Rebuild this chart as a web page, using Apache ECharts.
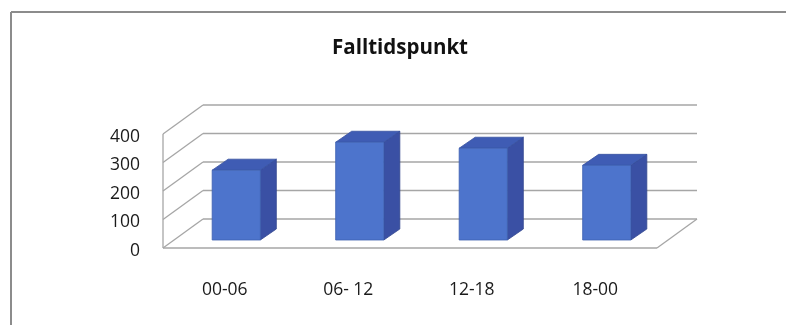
<!DOCTYPE html>
<html>
<head>
<meta charset="utf-8">
<script src="https://cdn.jsdelivr.net/npm/echarts@6/dist/echarts.min.js"></script>
<style>
  html, body { margin: 0; padding: 0; background: #ffffff; }
  #chart { width: 786px; height: 325px; }
</style>
</head>
<body>
<div id="chart"></div>
<script>
// Incident time-of-day buckets and their counts
const categories = ['00-06', '06- 12', '12-18', '18-00'];
const counts = [245, 343, 322, 262];
// Value-axis ticks (also used for the wall gridlines)
const yTicks = [0, 100, 200, 300, 400];

// Oblique "3D" projection offsets in pixels
const WALL_DX = 40, WALL_DY = -29;   // depth of floor / side wall
const BAR_FX = 11.5, BAR_FY = -8;    // bar front face behind the floor's front edge
const BAR_DX = 16, BAR_DY = -11;     // bar depth

const GRID_COLOR = '#a6a6a6';
const FONT = '"Open Sans", "Liberation Sans", sans-serif';

function renderWalls(params, api) {
  const cs = params.coordSys;
  const x0 = cs.x, x1 = cs.x + cs.width;
  const v = api.value(1);
  const y = api.coord([0, v])[1];
  const lineStyle = { stroke: GRID_COLOR, lineWidth: 1.3, fill: null };
  const children = [
    // side wall diagonal
    { type: 'line', shape: { x1: x0, y1: y, x2: x0 + WALL_DX, y2: y + WALL_DY }, style: lineStyle },
    // back wall gridline
    { type: 'line', shape: { x1: x0 + WALL_DX, y1: y + WALL_DY, x2: x1 + WALL_DX, y2: y + WALL_DY }, style: lineStyle }
  ];
  if (v === 0) {
    const yTop = api.coord([0, yTicks[yTicks.length - 1]])[1];
    children.push(
      { type: 'line', shape: { x1: x0, y1: y, x2: x1, y2: y }, style: lineStyle },
      { type: 'line', shape: { x1: x1, y1: y, x2: x1 + WALL_DX, y2: y + WALL_DY }, style: lineStyle },
      { type: 'line', shape: { x1: x0, y1: y, x2: x0, y2: yTop }, style: lineStyle }
    );
  }
  return { type: 'group', children: children };
}

function renderBar(params, api) {
  const i = api.value(0);
  const base = api.coord([i, 0]);
  const top = api.coord([i, api.value(1)]);
  const bw = api.size([1, 0])[0] * 0.39;
  const xl = base[0] - bw / 2 + BAR_FX;
  const xr = xl + bw;
  const yb = base[1] + BAR_FY;
  const yt = top[1] + BAR_FY;
  return {
    type: 'group',
    children: [
      {
        type: 'polygon',
        shape: { points: [[xr, yt], [xr + BAR_DX, yt + BAR_DY], [xr + BAR_DX, yb + BAR_DY], [xr, yb]] },
        style: { fill: '#3a50a4', stroke: '#33478f', lineWidth: 0.8 }
      },
      {
        type: 'polygon',
        shape: { points: [[xl, yt], [xl + BAR_DX, yt + BAR_DY], [xr + BAR_DX, yt + BAR_DY], [xr, yt]] },
        style: { fill: '#3f5cb4', stroke: '#36509f', lineWidth: 0.8 }
      },
      {
        type: 'rect',
        shape: { x: xl, y: yt, width: bw, height: yb - yt },
        style: { fill: '#4d74cc', stroke: '#3d5fb0', lineWidth: 0.8 }
      }
    ]
  };
}

const chart = echarts.init(document.getElementById('chart'), null, { renderer: 'canvas' });
chart.setOption({
  animation: false,
  backgroundColor: '#ffffff',
  title: {
    text: 'Falltidspunkt',
    left: 332,
    top: 38,
    padding: 0,
    textStyle: { fontFamily: FONT, fontSize: 20.5, fontWeight: 'bold', color: '#111111' }
  },
  graphic: [
    { type: 'line', shape: { x1: 11, y1: 12, x2: 786, y2: 12 }, style: { stroke: '#8c8c8c', lineWidth: 2 } },
    { type: 'line', shape: { x1: 11, y1: 12, x2: 11, y2: 325 }, style: { stroke: '#8c8c8c', lineWidth: 2 } }
  ],
  grid: { left: 163, right: 129, top: 134, bottom: 77 },
  xAxis: {
    type: 'category',
    data: categories,
    axisLine: { show: false },
    axisTick: { show: false },
    axisLabel: { margin: 33, fontFamily: FONT, fontSize: 17.5, color: '#1a1a1a' }
  },
  yAxis: {
    type: 'value',
    min: 0,
    max: 400,
    interval: 100,
    axisLine: { show: false },
    axisTick: { show: false },
    splitLine: { show: false },
    axisLabel: {
      margin: 23,
      formatter: '{v|{value}}',
      rich: {
        v: { fontFamily: FONT, fontSize: 17.5, color: '#1a1a1a', padding: [6, 0, 0, 0] }
      }
    }
  },
  series: [
    {
      type: 'custom',
      name: 'walls',
      silent: true,
      renderItem: renderWalls,
      encode: { x: 0, y: 1 },
      data: yTicks.map(function (v) { return [0, v]; }),
      z: 1
    },
    {
      type: 'custom',
      name: 'Falltidspunkt',
      renderItem: renderBar,
      encode: { x: 0, y: 1 },
      data: counts.map(function (v, i) { return [i, v]; }),
      z: 2
    }
  ]
});
</script>
</body>
</html>
